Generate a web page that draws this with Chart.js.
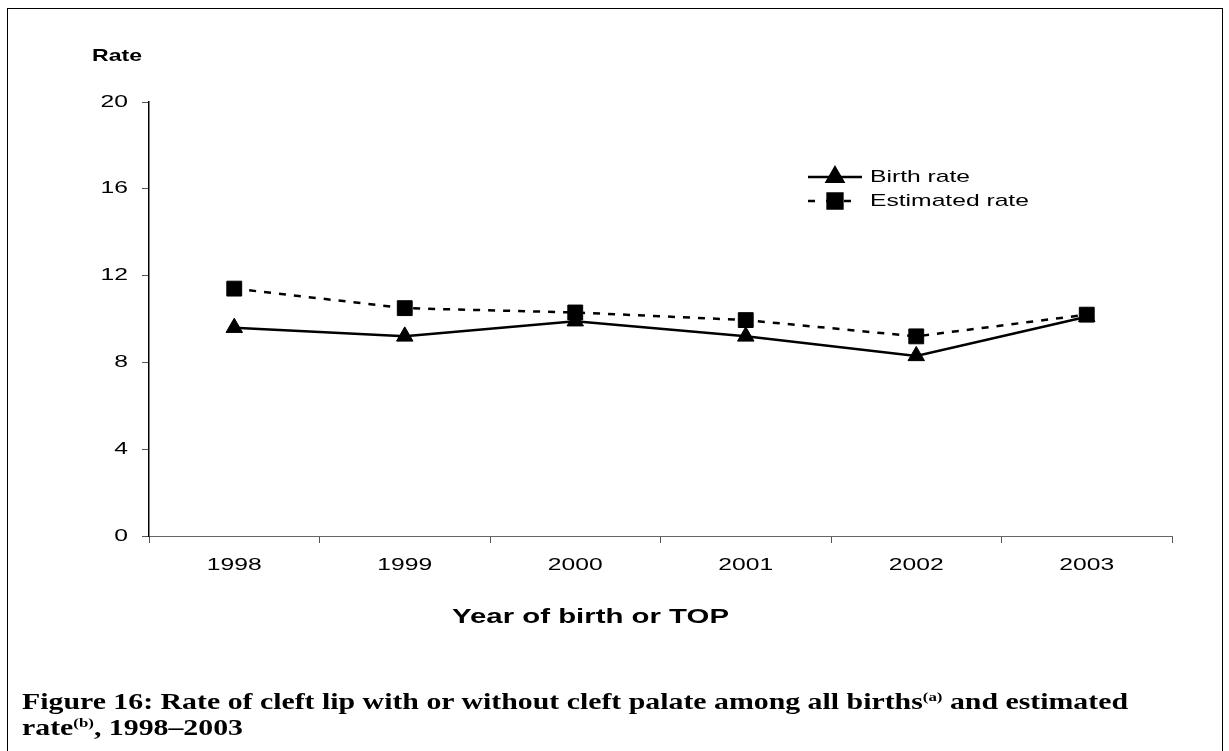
<!DOCTYPE html>
<html lang="en">
<head>
    <meta charset="UTF-8">
    <title>Cleft lip rate 1998-2003</title>
    <script src="https://cdn.jsdelivr.net/npm/chart.js"></script>
    <style>
        html, body { margin: 0; padding: 0; background: #fff; }
        #wrap { position: relative; width: 1229px; height: 751px; overflow: hidden; }
        #frame { position: absolute; left: 7px; top: 8px; width: 1214px; height: 780px; border: 1px solid #000; }
        #chart { position: absolute; left: 0; top: 0; }
        .lbl { position: absolute; font-family: "Liberation Sans", Arial, sans-serif; color: #000; white-space: nowrap;
               transform-origin: 0 50%; }
        #ytitle { left: 92px; top: 46px; font-size: 17px; font-weight: bold; }
        #xtitle { left: 452px; top: 605px; font-size: 20px; font-weight: bold; }
        #caption { position: absolute; left: 22px; top: 689px; font-family: "Liberation Serif", "DejaVu Serif", serif;
                   font-weight: bold; font-size: 23px; line-height: 26px; color: #000; white-space: nowrap;
                   transform-origin: 0 0; }
        #caption sup { font-size: 13px; vertical-align: 8px; line-height: 0; }
    </style>
</head>
<body>
<div id="wrap">
    <div id="frame"></div>
    <canvas id="chart" width="1229" height="751"></canvas>
    <div class="lbl" id="ytitle">Rate</div>
    <div class="lbl" id="xtitle">Year of birth or TOP</div>
    <div id="caption"><span id="cap1">Figure 16: Rate of cleft lip with or without cleft palate among all births<sup>(a)</sup> and estimated</span><br>rate<sup>(b)</sup>, 1998–2003</div>
</div>

<script>
    const years = ['1998', '1999', '2000', '2001', '2002', '2003'];
    const birthRate = [9.6, 9.2, 9.9, 9.2, 8.3, 10.1];
    const estimatedRate = [11.4, 10.5, 10.3, 9.95, 9.2, 10.2];
    const yTicks = [0, 4, 8, 12, 16, 20];

    // the original picture is stretched sideways, so its text is wide
    const STRETCH = 1.45;
    const FONT = '"Liberation Sans", Arial, sans-serif';

    function wideText(ctx, text, x, y, align, size) {
        ctx.save();
        ctx.translate(x, y);
        ctx.scale(STRETCH, 1);
        ctx.font = size + 'px ' + FONT;
        ctx.fillStyle = '#000';
        ctx.textAlign = align;
        ctx.textBaseline = 'middle';
        ctx.fillText(text, 0, 0);
        ctx.restore();
    }

    function fitWidth(el, target) {
        const w = el.getBoundingClientRect().width;
        el.style.transform = 'scaleX(' + (target / w) + ')';
    }

    // tick labels in the wide font, placed from the chart's scales
    const wideTicks = {
        id: 'wideTicks',
        afterDraw(chart) {
            const ctx = chart.ctx;
            const xs = chart.scales.x, ys = chart.scales.y;
            xs.ticks.forEach((t, i) => {
                wideText(ctx, xs.getLabelForValue(t.value), xs.getPixelForTick(i), xs.top + 29, 'center', 17);
            });
            ys.ticks.forEach((t, i) => {
                wideText(ctx, String(t.value), ys.right - 21, ys.getPixelForTick(i), 'right', 17);
            });
        }
    };

    // legend drawn inside the plot, like the original
    const insideLegend = {
        id: 'insideLegend',
        afterDraw(chart) {
            const ctx = chart.ctx;
            const rows = [
                { ds: chart.data.datasets[0], y: 177 },
                { ds: chart.data.datasets[1], y: 201 }
            ];
            rows.forEach(r => {
                ctx.save();
                ctx.strokeStyle = '#000';
                ctx.fillStyle = '#000';
                ctx.lineWidth = r.ds.borderWidth;
                ctx.setLineDash(r.ds.borderDash ? [7, 11] : []);
                ctx.beginPath();
                ctx.moveTo(808, r.y);
                ctx.lineTo(862, r.y);
                ctx.stroke();
                ctx.setLineDash([]);
                Chart.helpers.drawPoint(ctx, {
                    pointStyle: r.ds.pointStyle,
                    radius: r.ds.pointRadius,
                    borderWidth: 1
                }, 835, r.y);
                ctx.restore();
                wideText(ctx, r.ds.label, 870, r.y, 'left', 17);
            });
        }
    };

    new Chart(document.getElementById('chart'), {
        type: 'line',
        data: {
            labels: years,
            datasets: [{
                label: 'Birth rate',
                data: birthRate,
                borderColor: '#000',
                backgroundColor: '#000',
                borderWidth: 2.5,
                pointStyle: 'triangle',
                pointRadius: 9.5,
                pointBorderWidth: 1,
                tension: 0
            }, {
                label: 'Estimated rate',
                data: estimatedRate,
                borderColor: '#000',
                backgroundColor: '#000',
                borderWidth: 2.5,
                borderDash: [7, 8],
                pointStyle: 'rect',
                pointRadius: 10.5,
                pointBorderWidth: 1,
                tension: 0
            }]
        },
        options: {
            responsive: false,
            animation: false,
            layout: { padding: { left: 0, top: 102, right: 57, bottom: 175 } },
            plugins: {
                legend: { display: false },
                tooltip: { enabled: false }
            },
            scales: {
                x: {
                    type: 'category',
                    offset: true,
                    afterFit: s => { s.height = 40; },
                    grid: {
                        offset: true,
                        drawOnChartArea: false,
                        drawTicks: true,
                        tickLength: 7,
                        color: '#555'
                    },
                    border: { display: true, color: '#666', width: 1 },
                    ticks: { display: false }
                },
                y: {
                    min: 0,
                    max: 20,
                    afterFit: s => { s.width = 149; },
                    afterBuildTicks: s => { s.ticks = yTicks.map(v => ({ value: v })); },
                    grid: {
                        drawOnChartArea: false,
                        drawTicks: true,
                        tickLength: 7,
                        color: '#555'
                    },
                    border: { display: true, color: '#000', width: 1.5 },
                    ticks: { display: false }
                }
            }
        },
        plugins: [wideTicks, insideLegend]
    });

    fitWidth(document.getElementById('ytitle'), 50);
    fitWidth(document.getElementById('xtitle'), 277);
    const cap = document.getElementById('caption');
    const capW = document.getElementById('cap1').getBoundingClientRect().width;
    cap.style.transform = 'scaleX(' + (1106 / capW) + ')';
</script>
</body>
</html>
